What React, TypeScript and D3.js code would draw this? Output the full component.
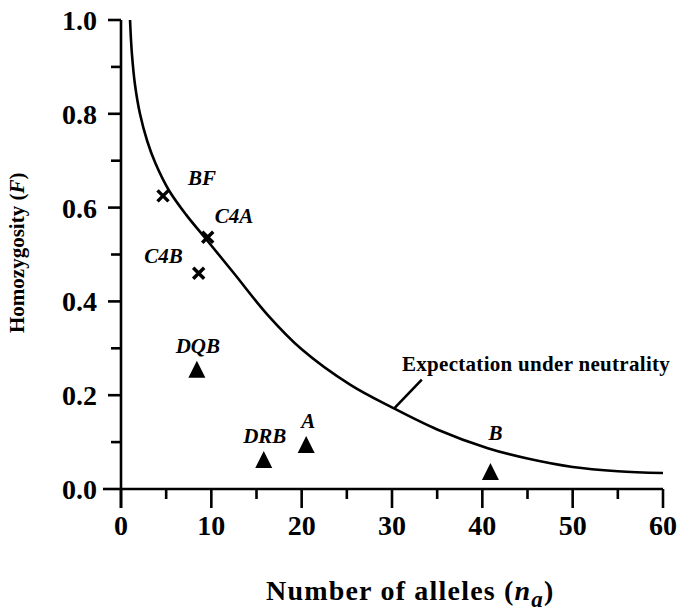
import React from "react";
import * as d3 from "d3";

// Expectation under neutrality (curve)
const curveN = [1.0, 1.2, 1.55, 2.1, 2.9, 3.8, 5.3, 7.2, 9.5, 12.5, 16.2, 20.0, 25.4, 30.1, 35.0, 40.6, 45.0, 50.0, 55.0, 60.0];
const curveF = [1.0, 0.93, 0.862, 0.8, 0.742, 0.695, 0.637, 0.585, 0.531, 0.46, 0.372, 0.298, 0.222, 0.173, 0.127, 0.087, 0.065, 0.047, 0.038, 0.034];

// Class III loci (crosses)
const crossLabels = ["BF", "C4A", "C4B"];
const crossN = [4.65, 9.6, 8.6];
const crossF = [0.625, 0.537, 0.46];

// Class I / II loci (triangles)
const triLabels = ["DQB", "DRB", "A", "B"];
const triN = [8.4, 15.8, 20.5, 40.9];
const triF = [0.254, 0.062, 0.094, 0.036];

const xMajor = [0, 10, 20, 30, 40, 50, 60];
const xMinor = [5, 15, 25, 35, 45, 55];
const yMajor = [0, 0.2, 0.4, 0.6, 0.8, 1.0];
const yMinor = [0.1, 0.3, 0.5, 0.7, 0.9];

// label placement (pixel offsets from marker centre)
const crossLabelPos: [number, number, string][] = [
  [25, -11, "start"],
  [7, -14, "start"],
  [-16, -10, "end"],
];
const triLabelPos: [number, number, string][] = [
  [1, -17, "middle"],
  [1, -17, "middle"],
  [2, -17, "middle"],
  [5, -32, "middle"],
];

const W = 679;
const H = 615;
const FONT = "'Liberation Serif', 'Times New Roman', serif";

export default function App() {
  const x = d3.scaleLinear().domain([0, 60]).range([121, 663]);
  const y = d3.scaleLinear().domain([0, 1]).range([489, 20]);

  const pts = curveN.map((n, i) => [n, curveF[i]] as [number, number]);
  const line = d3
    .line<[number, number]>()
    .x((d) => x(d[0]))
    .y((d) => y(d[1]))
    .curve(d3.curveCatmullRom.alpha(0.5));

  const tri = "M0,-9 L8.5,8 L-8.5,8 Z";
  const axisW = 2.6;

  return (
    <svg
      width={W}
      height={H}
      style={{ position: "absolute", left: 0, top: 0, background: "#fff" }}
      fontFamily={FONT}
    >
      <rect x={0} y={0} width={W} height={H} fill="#fff" />
      {/* y axis */}
      <line x1={x(0)} x2={x(0)} y1={y(1)} y2={y(0) + 19} stroke="#000" strokeWidth={axisW} />
      {yMajor.map((v) => (
        <g key={"ym" + v}>
          <line x1={x(0) - (v === 0 ? 18 : 13)} x2={x(0)} y1={y(v)} y2={y(v)} stroke="#000" strokeWidth={axisW} />
          <text x={97} y={y(v) + 10} textAnchor="end" fontSize={28} fontWeight="bold">
            {v.toFixed(1)}
          </text>
        </g>
      ))}
      {yMinor.map((v) => (
        <line key={"yn" + v} x1={x(0) - 10} x2={x(0)} y1={y(v)} y2={y(v)} stroke="#000" strokeWidth={axisW} />
      ))}
      {/* x axis */}
      <line x1={x(0)} x2={x(60)} y1={y(0)} y2={y(0)} stroke="#000" strokeWidth={axisW} />
      {xMajor.map((v) => (
        <g key={"xm" + v}>
          <line x1={x(v)} x2={x(v)} y1={y(0)} y2={y(0) + 19} stroke="#000" strokeWidth={axisW} />
          <text x={x(v)} y={535} textAnchor="middle" fontSize={28} fontWeight="bold">
            {v}
          </text>
        </g>
      ))}
      {xMinor.map((v) => (
        <line key={"xn" + v} x1={x(v)} x2={x(v)} y1={y(0)} y2={y(0) + 10} stroke="#000" strokeWidth={axisW} />
      ))}

      {/* curve */}
      <path d={line(pts) || ""} fill="none" stroke="#000" strokeWidth={2.6} />
      {/* pointer */}
      <line x1={x(30.3)} y1={y(0.173)} x2={x(33.3)} y2={y(0.233)} stroke="#000" strokeWidth={2.6} />
      <text x={x(31.1)} y={y(0.251)} fontSize={21} fontWeight="bold" letterSpacing={0.3}>
        Expectation under neutrality
      </text>

      {/* crosses */}
      {crossN.map((n, i) => {
        const cx = x(n);
        const cy = y(crossF[i]);
        const s = 5.5;
        const [dx, dy, anchor] = crossLabelPos[i];
        return (
          <g key={"c" + i}>
            <path
              d={`M${cx - s},${cy - s}L${cx + s},${cy + s}M${cx - s},${cy + s}L${cx + s},${cy - s}`}
              stroke="#000"
              strokeWidth={3.5}
            />
            <text x={cx + dx} y={cy + dy} textAnchor={anchor as any} fontSize={21} fontWeight="bold" fontStyle="italic">
              {crossLabels[i]}
            </text>
          </g>
        );
      })}

      {/* triangles */}
      {triN.map((n, i) => {
        const cx = x(n);
        const cy = y(triF[i]);
        const [dx, dy, anchor] = triLabelPos[i];
        return (
          <g key={"t" + i}>
            <path d={tri} transform={`translate(${cx},${cy})`} fill="#000" />
            <text x={cx + dx} y={cy + dy} textAnchor={anchor as any} fontSize={21} fontWeight="bold" fontStyle="italic">
              {triLabels[i]}
            </text>
          </g>
        );
      })}

      {/* axis titles */}
      <text x={266} y={600} fontSize={28} fontWeight="bold" letterSpacing={1.2}>
        Number of alleles (
        <tspan fontStyle="italic">n</tspan>
        <tspan fontStyle="italic" fontSize={23} dy={7}>a</tspan>
        <tspan dy={-7}>)</tspan>
      </text>
      <text transform="translate(24,333) rotate(-90)" fontSize={21} fontWeight="bold">
        Homozygosity (<tspan fontStyle="italic">F</tspan>)
      </text>
    </svg>
  );
}
